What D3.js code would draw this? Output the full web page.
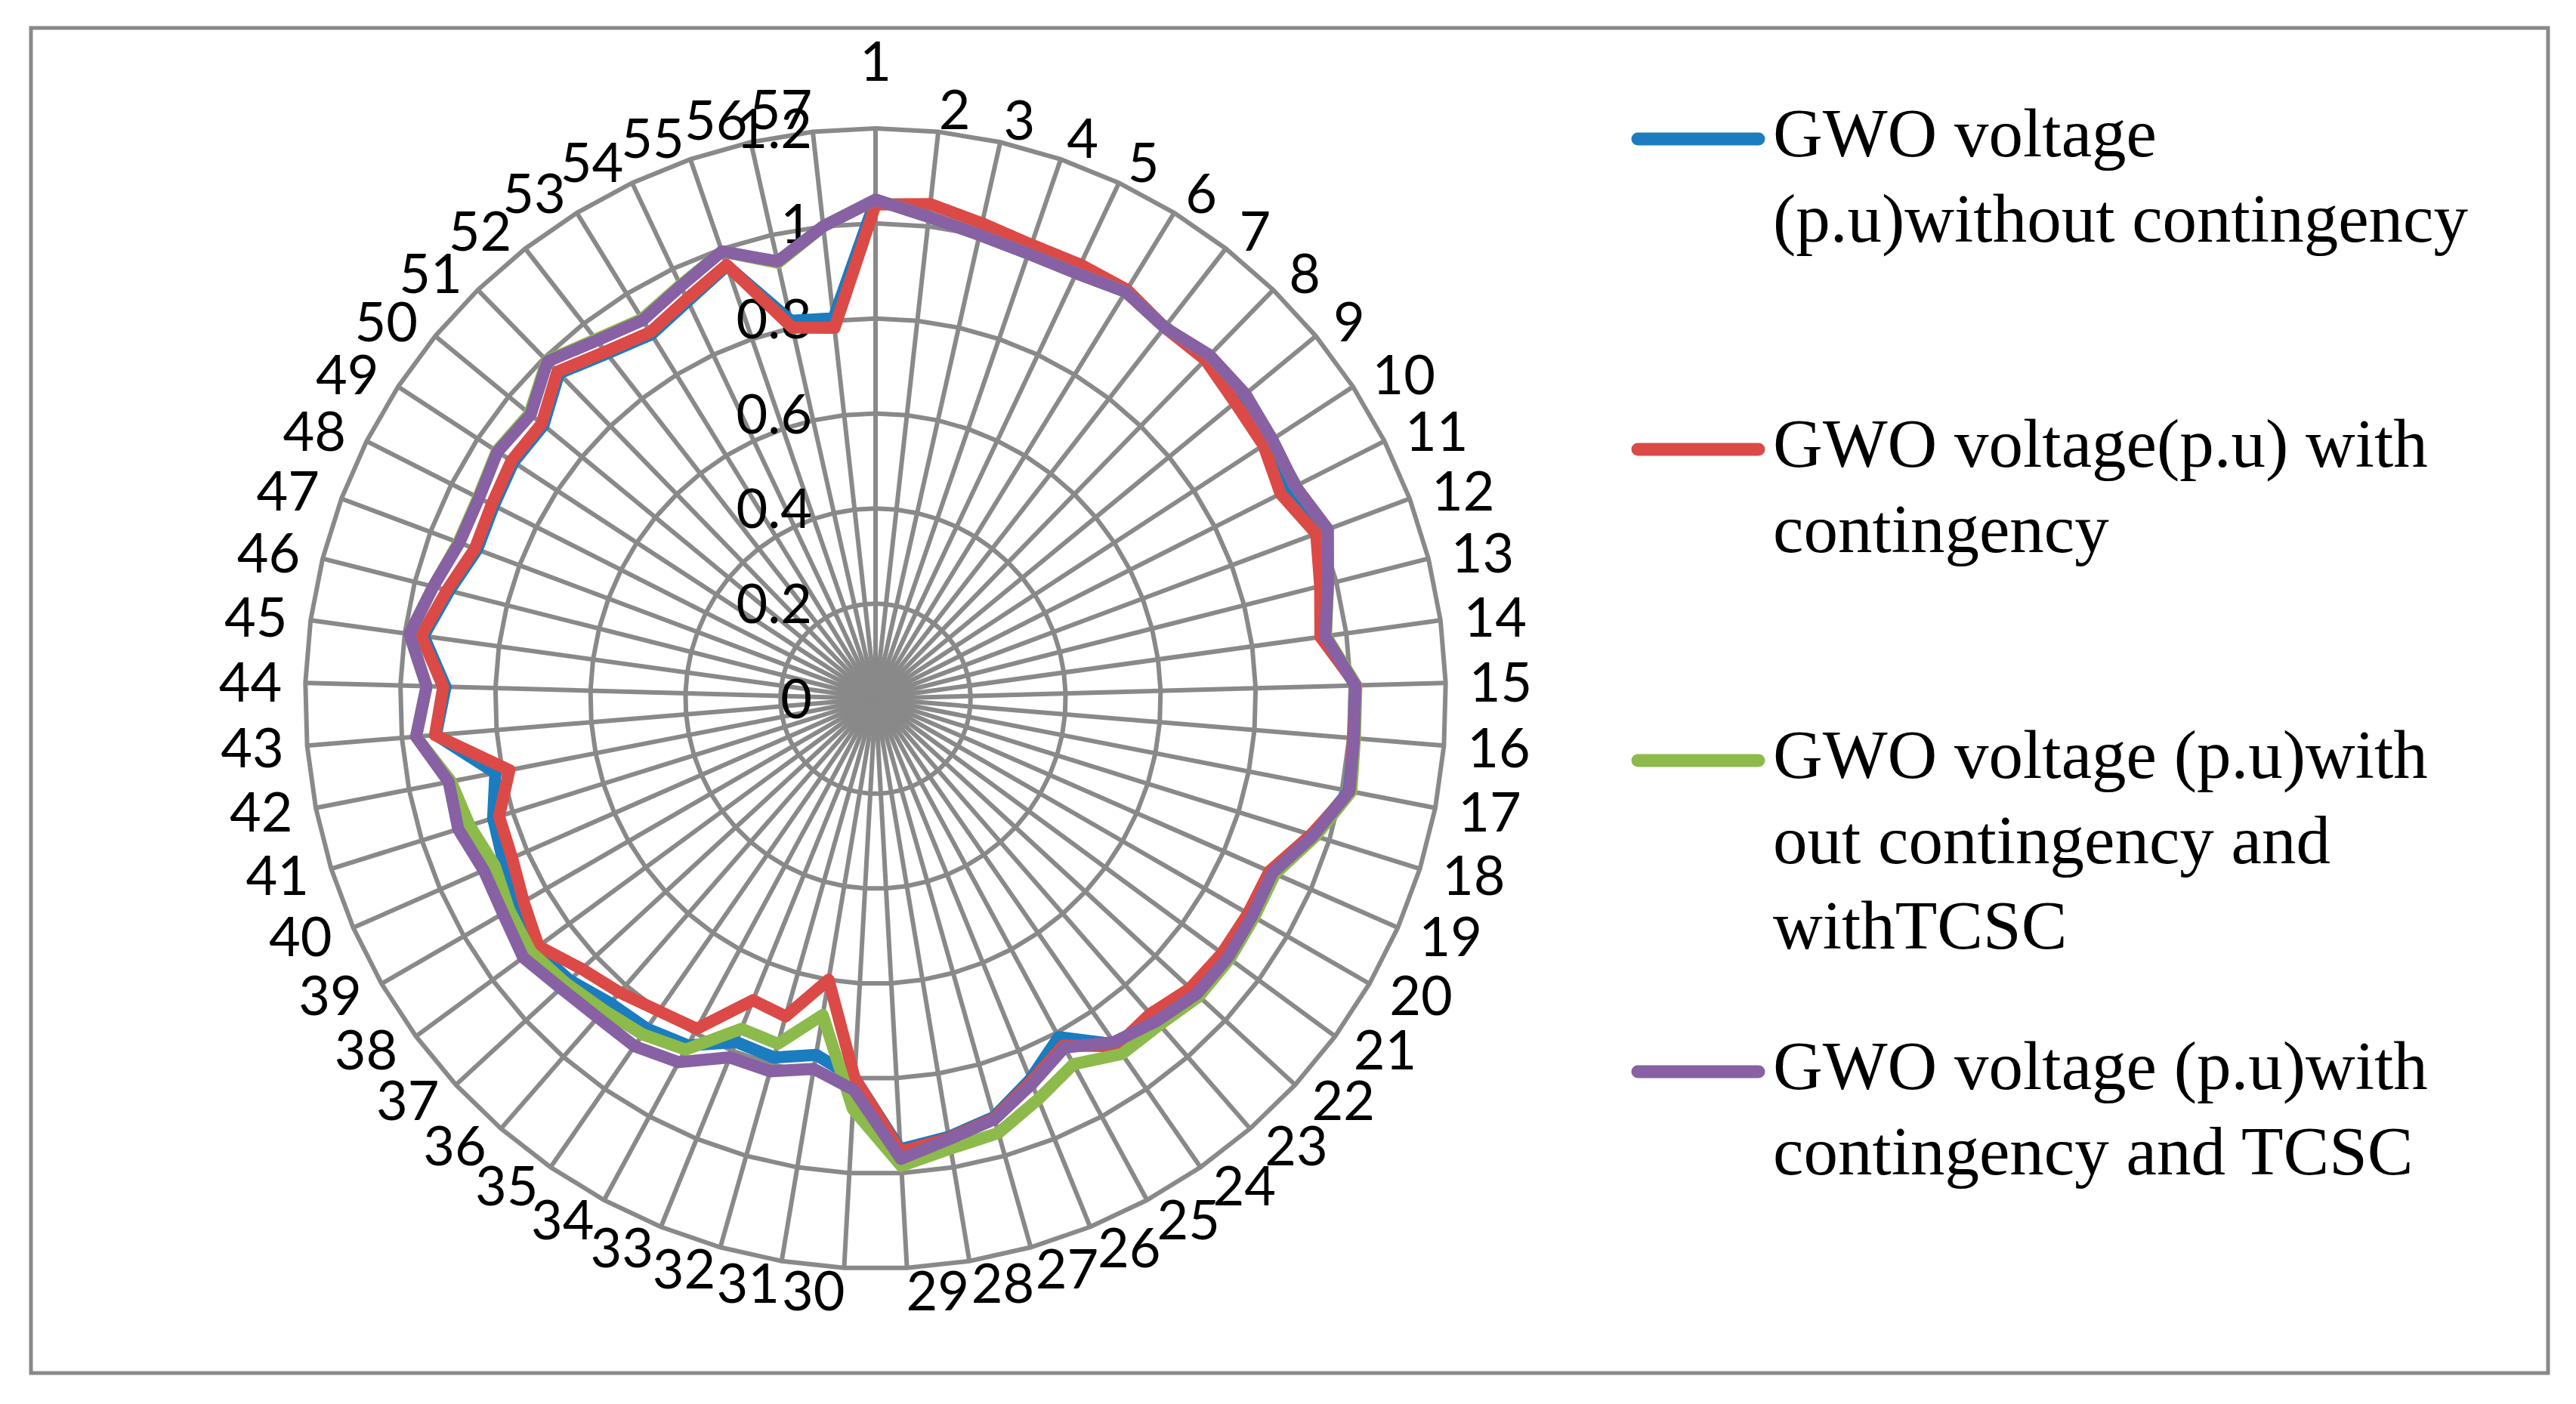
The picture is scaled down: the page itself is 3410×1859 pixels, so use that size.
<!DOCTYPE html>
<html>
<head>
<meta charset="utf-8">
<script src="https://cdn.jsdelivr.net/npm/d3@7"></script>
<style>
  body { margin: 0; background: #fff; }
</style>
</head>
<body>
<div id="chart"></div>
<script>
  'use strict';

  // bus numbers round the radar
  var categories = ["1","2","3","4","5","6","7","8","9","10","11","12","13","14","15","16","17","18","19","20",
    "21","22","23","24","25","26","27","28","29","30","31","32","33","34","35","36","37","38","39","40",
    "41","42","43","44","45","46","47","48","49","50","51","52","53","54","55","56","57"];

  var ticks = [0, 0.2, 0.4, 0.6, 0.8, 1, 1.2];
  var tickLabels = ["0", "0.2", "0.4", "0.6", "0.8", "1", "1.2"];

  var withoutCont = [1.05,1.02,1.00,0.99,0.99,1.005,0.99,1.005,1.0,0.99,0.98,1.01,0.978,0.952,1.01,1.01,1.015,0.963,0.91,0.912,
    0.915,0.912,0.895,0.885,0.81,0.865,0.915,0.935,0.95,0.80,0.76,0.785,0.78,0.83,0.845,0.85,0.875,0.89,0.865,0.855,
    0.843,0.815,0.928,0.905,0.96,0.925,0.895,0.90,0.91,0.905,0.955,0.92,0.90,0.925,0.963,0.815,0.805];

  var withCont = [1.04,1.047,1.025,1.01,1.01,1.01,0.99,0.995,0.98,0.975,0.955,0.99,0.965,0.945,1.012,1.008,1.018,0.96,0.905,0.905,
    0.905,0.90,0.88,0.89,0.83,0.87,0.918,0.938,0.955,0.80,0.60,0.695,0.685,0.79,0.80,0.82,0.84,0.88,0.855,0.835,
    0.83,0.785,0.93,0.91,0.965,0.93,0.90,0.905,0.915,0.91,0.96,0.925,0.905,0.93,0.965,0.80,0.785];

  var withoutContTcsc = [1.05,1.02,1.0,0.99,0.99,1.005,0.99,1.008,1.008,0.997,0.99,1.016,0.982,0.957,1.012,1.012,1.02,0.97,0.918,0.92,
    0.925,0.925,0.91,0.91,0.875,0.91,0.95,0.96,0.985,0.865,0.675,0.755,0.75,0.84,0.86,0.87,0.885,0.90,0.89,0.875,
    0.895,0.91,0.97,0.945,0.99,0.96,0.937,0.937,0.952,0.943,0.992,0.958,0.938,0.962,0.995,0.94,1.0];

  var withContTcsc = [1.05,1.02,1.00,0.99,0.99,1.005,0.99,1.008,1.008,0.997,0.99,1.016,0.982,0.955,1.01,1.01,1.016,0.965,0.912,0.915,
    0.92,0.918,0.90,0.88,0.835,0.875,0.92,0.94,0.97,0.825,0.79,0.815,0.815,0.87,0.89,0.89,0.90,0.92,0.905,0.90,
    0.92,0.915,0.97,0.945,0.99,0.96,0.935,0.935,0.95,0.94,0.99,0.955,0.935,0.96,0.995,0.943,1.0];

  var seriesNames = [
    ["GWO voltage", "(p.u)without contingency"],
    ["GWO voltage(p.u) with", "contingency"],
    ["GWO voltage (p.u)with", "out contingency and", "withTCSC"],
    ["GWO voltage (p.u)with", "contingency and TCSC"]
  ];
  var seriesValues = [withoutCont, withCont, withoutContTcsc, withContTcsc];
  var seriesColors = ["#1b7cc0", "#db4a46", "#8cba4b", "#8761a3"];

  var width = 3410, height = 1859;
  var cx = 1159, cy = 925, outerR = 755;
  var gridColor = "#898989";

  var svg = d3.select("#chart")
    .append("svg")
    .attr("width", width)
    .attr("height", height);

  svg.append("rect")
    .attr("x", 41).attr("y", 37)
    .attr("width", 3332).attr("height", 1781)
    .attr("fill", "#fff")
    .attr("stroke", gridColor)
    .attr("stroke-width", 5);

  var r = d3.scaleLinear().domain([0, 1.2]).range([0, outerR]);
  var angle = d3.scaleLinear().domain([0, categories.length]).range([0, 2 * Math.PI]);

  var g = svg.append("g").attr("transform", "translate(" + cx + "," + cy + ")");

  // rings
  var ring = d3.lineRadial()
    .angle(function(d, i) { return angle(i); })
    .radius(function(d) { return r(d); })
    .curve(d3.curveLinearClosed);

  g.selectAll(".ring")
    .data(ticks.filter(function(t) { return t > 0; }))
    .enter().append("path")
    .attr("class", "ring")
    .attr("d", function(t) { return ring(categories.map(function() { return t; })); })
    .attr("fill", "none")
    .attr("stroke", gridColor)
    .attr("stroke-width", 6);

  // spokes
  g.selectAll(".spoke")
    .data(categories)
    .enter().append("line")
    .attr("class", "spoke")
    .attr("x1", 0).attr("y1", 0)
    .attr("x2", function(d, i) { return r(1.2) * Math.sin(angle(i)); })
    .attr("y2", function(d, i) { return -r(1.2) * Math.cos(angle(i)); })
    .attr("stroke", gridColor)
    .attr("stroke-width", 6);

  // value labels up the first spoke
  g.selectAll(".tick")
    .data(ticks)
    .enter().append("text")
    .attr("class", "tick")
    .attr("x", -84)
    .attr("y", function(t) { return -r(t) + 26; })
    .attr("text-anchor", "end")
    .attr("font-family", "Lato, 'Open Sans', sans-serif")
    .attr("font-size", 72)
    .attr("fill", "#000")
    .text(function(t, i) { return tickLabels[i]; });

  // category labels
  var capH = 52;
  g.selectAll(".cat")
    .data(categories)
    .enter().append("text")
    .attr("class", "cat")
    .each(function(d, i) {
      var a = angle(i), s = Math.sin(a), c = Math.cos(a);
      var ex = r(1.2) * s, ey = -r(1.2) * c;
      var anchor = "middle", x = ex;
      if (s > 0.01) { anchor = "start"; x = ex + 34 * s - 3; }
      else if (s < -0.01) { anchor = "end"; x = ex - 34 * Math.abs(s) + 3; }
      var yc = ey - c * (capH / 2 + 4);
      if (i === 0) yc -= 59;
      d3.select(this)
        .attr("x", x)
        .attr("y", yc + capH / 2)
        .attr("text-anchor", anchor);
    })
    .attr("font-family", "Lato, 'Open Sans', sans-serif")
    .attr("font-size", 72)
    .attr("fill", "#000")
    .text(function(d) { return d; });

  // series
  var line = d3.lineRadial()
    .angle(function(d, i) { return angle(i); })
    .radius(function(d) { return r(d); })
    .curve(d3.curveLinearClosed);

  g.selectAll(".series")
    .data(seriesValues)
    .enter().append("path")
    .attr("class", "series")
    .attr("d", function(d) { return line(d); })
    .attr("fill", "none")
    .attr("stroke", function(d, i) { return seriesColors[i]; })
    .attr("stroke-width", 16)
    .attr("stroke-linejoin", "round")
    .attr("stroke-linecap", "round");

  // legend
  var legendY = [184, 595, 1007, 1419];
  var legend = svg.selectAll(".legend")
    .data(seriesNames)
    .enter().append("g")
    .attr("class", "legend")
    .attr("transform", function(d, i) { return "translate(0," + legendY[i] + ")"; });

  legend.append("line")
    .attr("x1", 2168).attr("x2", 2328)
    .attr("y1", 0).attr("y2", 0)
    .attr("stroke", function(d, i) { return seriesColors[i]; })
    .attr("stroke-width", 17)
    .attr("stroke-linecap", "round");

  legend.each(function(lines) {
    var t = d3.select(this).append("text")
      .attr("font-family", "'Liberation Serif', 'DejaVu Serif', serif")
      .attr("font-size", 91)
      .attr("fill", "#000");
    t.selectAll("tspan")
      .data(lines)
      .enter().append("tspan")
      .attr("x", 2347)
      .attr("y", function(d, j) { return 23 + j * 113; })
      .text(function(d) { return d; });
  });
</script>
</body>
</html>
